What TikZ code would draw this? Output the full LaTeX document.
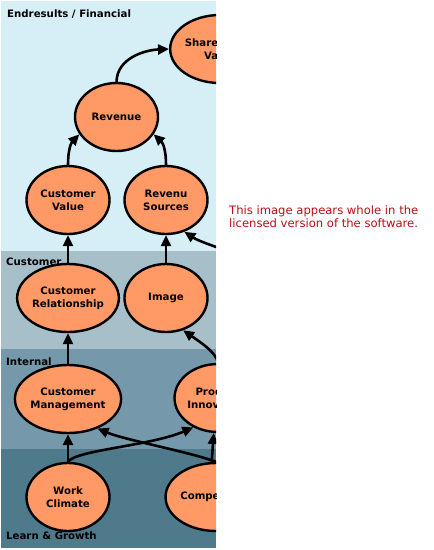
\documentclass[tikz,border=0pt]{standalone}
\usepackage{fontspec}
\setmainfont{DejaVu Sans}
\usetikzlibrary{shapes.geometric,arrows.meta}
\definecolor{finband}{RGB}{214,238,245}
\definecolor{custband}{RGB}{166,191,200}
\definecolor{intband}{RGB}{117,153,171}
\definecolor{learnband}{RGB}{78,122,140}
\definecolor{nodefill}{RGB}{255,153,102}
\definecolor{notered}{RGB}{185,15,25}
\tikzset{
  goal/.style={ellipse, draw=black, line width=2.4pt, fill=nodefill,
    minimum width=83pt, minimum height=68pt, inner sep=0pt, align=center,
    font=\bfseries\fontsize{10.2}{13}\selectfont},
  link/.style={line width=2.6pt, -{Triangle[length=11pt,width=10pt]}},
  bandlabel/.style={anchor=base west, inner sep=0pt, font=\bfseries\fontsize{10.2}{12}\selectfont},
  notetext/.style={anchor=base west, inner sep=0pt, text=notered, font=\fontsize{11.6}{13}\selectfont}
}
\begin{document}
\begin{tikzpicture}[x=1pt,y=-1pt]
\useasboundingbox (0,0) rectangle (434,550);
\fill[white] (0,0) rectangle (434,550);
\begin{scope}
\clip (1,1) rectangle (216,548);
\fill[finband] (1,1) rectangle (216,251);
\fill[custband] (1,251) rectangle (216,349);
\fill[intband] (1,349) rectangle (216,449);
\fill[learnband] (1,449) rectangle (216,548);
\node[bandlabel] (lfin) at (7,17) {Endresults / Financial};
\node[bandlabel] (lcus) at (6,265) {Customer};
\node[bandlabel] (lint) at (6,365) {Internal};
\node[bandlabel] (llg) at (6,539.5) {Learn \& Growth};
\node[goal] (sh) at (220,49) {Shareholder\\Value};
\node[goal] (rev) at (116.5,117) {Revenue};
\node[goal] (cv) at (68,200) {Customer\\Value};
\node[goal] (rs) at (166,200) {Revenu\\Sources};
\node[goal] (cr) at (68,298) {Customer\\Relationship};
\node[goal] (img) at (166,298) {Image};
\node[goal] (cm) at (68,399) {Customer\\Management};
\node[goal] (pi) at (218,398) {Product\\Innovation};
\node[goal] (wc) at (68,497) {Work\\Climate};
\node[goal] (co) at (216,497) {Competence};
\coordinate (rsin) at (240,256);
\draw[link] (rev.north) .. controls (117,58) and (145,50) .. (sh.west);
\draw[link] (cv.north) .. controls (68,150) and (71,143) .. (rev.205);
\draw[link] (rs.north) .. controls (166,150) and (163,143) .. (rev.335);
\draw[link] (cr.north) -- (cv.south);
\draw[link] (img.north) -- (rs.south);
\draw[link] (rsin) .. controls (215,246) and (200,242) .. (rs.-60);
\draw[link] (cm.north) -- (cr.south);
\draw[link] (pi.north) .. controls (216,352) and (200,342) .. (img.-62);
\draw[link] (wc.north) -- (cm.south);
\draw[link] (wc.north) .. controls (76,450) and (150,446) .. (pi.230);
\draw[link] (co.north) .. controls (190,452) and (125,440) .. (cm.-45);
\draw[link] (co.97) -- (pi.263);
\end{scope}
\node[notetext] (n1) at (229,214) {This image appears whole in the};
\node[notetext] (n2) at (229,227) {licensed version of the software.};
\end{tikzpicture}
\end{document}
